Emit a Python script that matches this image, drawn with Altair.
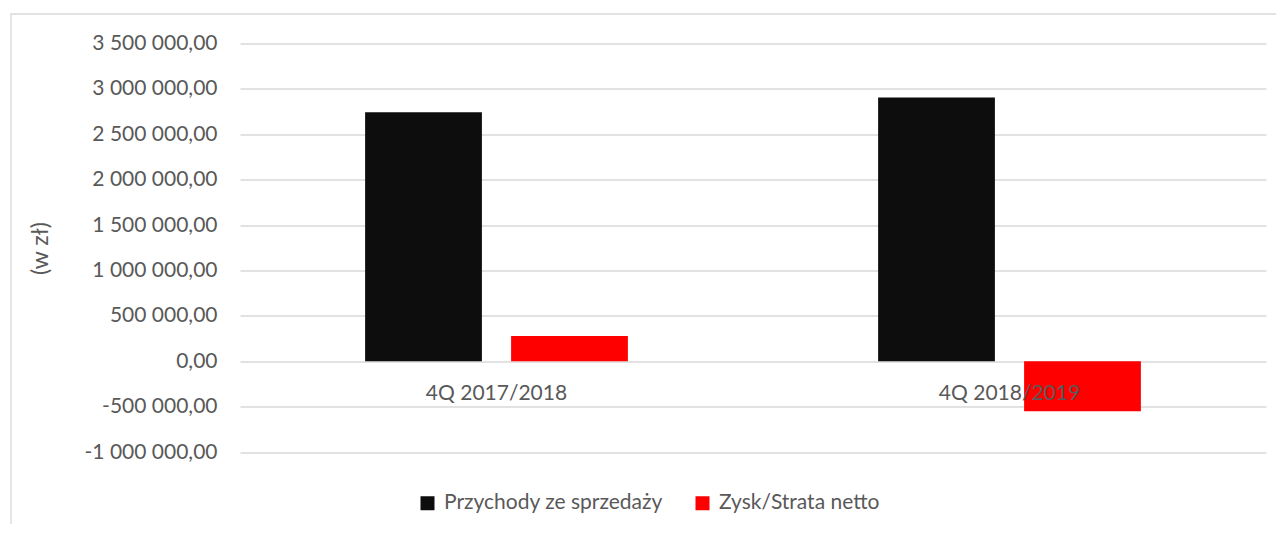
import altair as alt
import pandas as pd

categories = ["4Q 2017/2018", "4Q 2018/2019"]
series_names = ["Przychody ze sprzedaży", "Zysk/Strata netto"]
przychody = [2742000, 2904000]
zysk = [279000, -551000]
y_ticks = [-1000000, -500000, 0, 500000, 1000000, 1500000, 2000000, 2500000, 3000000, 3500000]
colors = ["#0d0d0d", "#ff0000"]

rows = []
for c, p, z in zip(categories, przychody, zysk):
    rows.append({"kat": c, "seria": series_names[0], "wartosc": p})
    rows.append({"kat": c, "seria": series_names[1], "wartosc": z})
df = pd.DataFrame(rows)

FONT = "Lato"
GREY = "#595959"
FS = 21

label_expr = ("replace(replace(replace(format(datum.value, ',.2f'), regexp(',', 'g'), ' '), '.', ','), '\u2212', '-')")

bars = alt.Chart(df).mark_bar().encode(
    x=alt.X("kat:N", sort=categories,
            scale=alt.Scale(paddingInner=0, paddingOuter=0),
            axis=alt.Axis(title=None, domain=False, ticks=False, labelAngle=0,
                          offset=-91, labelPadding=21, labelFont=FONT,
                          labelFontSize=FS, labelColor=GREY, grid=False, zindex=2)),
    xOffset=alt.XOffset("seria:N", sort=series_names,
                        scale=alt.Scale(paddingInner=0.2, paddingOuter=0.857)),
    y=alt.Y("wartosc:Q",
            scale=alt.Scale(domain=[-1000000, 3500000], nice=False, zero=False),
            axis=alt.Axis(values=y_ticks, labelExpr=label_expr, title="(w zł)",
                          domain=False, ticks=False, labelPadding=23,
                          labelFont=FONT, labelFontSize=FS, labelColor=GREY,
                          titleFont=FONT, titleFontSize=23, titleColor=GREY,
                          titleFontWeight="normal", titleX=-200, titleY=204.5,
                          titleAngle=270, titleAlign="center", titleBaseline="middle",
                          gridColor="#d9d9d9", gridWidth=1.3)),
    color=alt.Color("seria:N", sort=series_names,
                    scale=alt.Scale(domain=series_names, range=colors),
                    legend=alt.Legend(title=None, orient="none", direction="horizontal",
                                      legendX=177, legendY=449, symbolType="square",
                                      symbolSize=196, symbolStrokeWidth=0,
                                      labelFont=FONT, labelFontSize=FS, labelColor=GREY,
                                      labelLimit=0, columnPadding=29, labelOffset=6,
                                      padding=0)),
)

frame = alt.Chart(pd.DataFrame({"k": [0]})).mark_rect(
    fill=None, stroke="#d9d9d9", strokeWidth=1.3
).encode(
    x=alt.value(-229), x2=alt.value(1060),
    y=alt.value(-29.5), y2=alt.value(540),
)

chart = alt.layer(frame, bars).properties(
    width=1026, height=408.5,
    autosize=alt.AutoSizeParams(type="none"),
    padding={"left": 232, "top": 35.5, "right": 10, "bottom": 72},
).configure_view(stroke=None)

chart.save("out.html", embed_options={"renderer": "svg", "actions": False})
